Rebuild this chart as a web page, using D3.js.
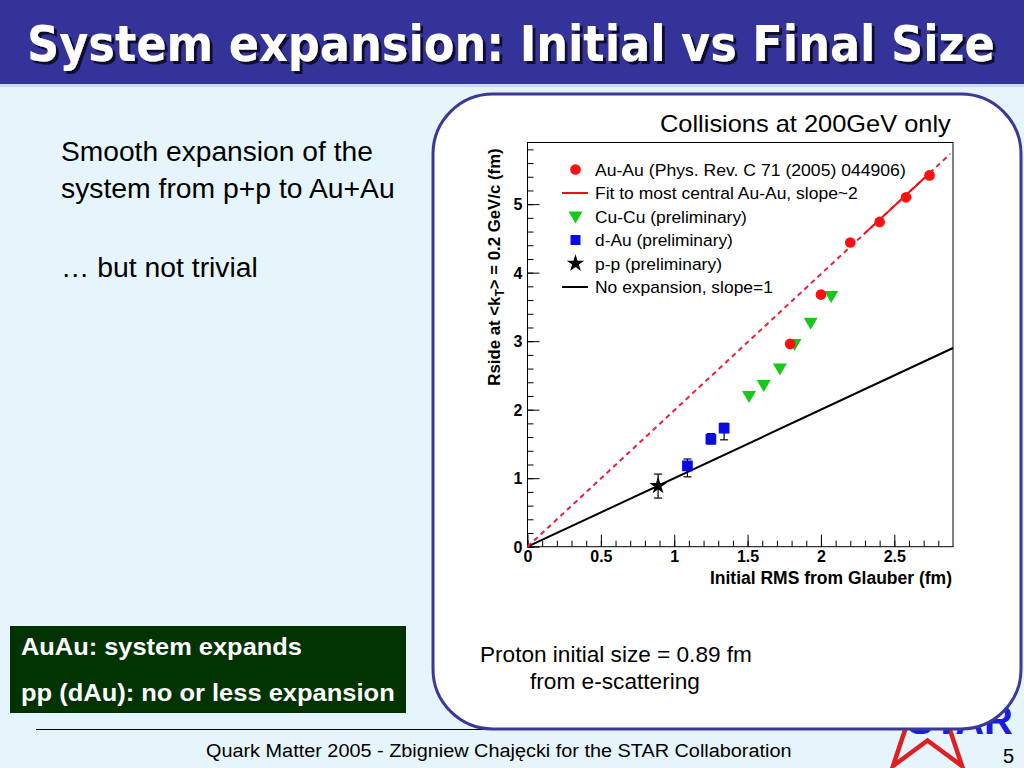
<!DOCTYPE html>
<html><head><meta charset="utf-8">
<script src="https://cdn.jsdelivr.net/npm/d3@7"></script>
<style>html,body{margin:0;padding:0;background:#e6f5fc;overflow:hidden}svg{display:block}</style>
</head><body>
<script>
// ---- data ----
const auauX = [1.79, 2.00, 2.20, 2.40, 2.58, 2.74];
const auauY = [2.96, 3.68, 4.44, 4.74, 5.10, 5.42];
const cucuX = [1.51, 1.61, 1.72, 1.82, 1.93, 2.07];
const cucuY = [2.20, 2.36, 2.60, 2.96, 3.27, 3.66];
const dauX = [1.09, 1.25, 1.34];
const dauY = [1.18, 1.57, 1.73];
const dauErrLo = [0.16, 0.07, 0.17];
const dauErrHi = [0.10, 0.08, 0.07];
const ppX = [0.89];
const ppY = [0.89];
const ppErrLo = [0.18];
const ppErrHi = [0.17];
const fitSlope = 1.99;           // "slope~2"
const fitRange = [0, 2.88];
const fitSolidRange = [2.3, 2.76];
const noExpSlope = 1;
const noExpRange = [0, 2.9];
const xDomain = [0, 2.9];
const yDomain = [0, 5.9];
const xMajorTicks = [0, 0.5, 1, 1.5, 2, 2.5];
const xTickLabels = ["0", "0.5", "1", "1.5", "2", "2.5"];
const yMajorTicks = [0, 1, 2, 3, 4, 5];
const yTickLabels = ["0", "1", "2", "3", "4", "5"];
const legendLabels = ["Au-Au (Phys. Rev. C 71 (2005) 044906)", "Fit to most central Au-Au, slope~2",
  "Cu-Cu (preliminary)", "d-Au (preliminary)", "p-p (preliminary)", "No expansion, slope=1"];

const W = 1024, H = 768;
const svg = d3.select("body").append("svg").attr("width", W).attr("height", H);
const font = "'Liberation Sans', Arial, Helvetica, sans-serif";

// fit a text element horizontally to a target width by scaling around its anchor x
function fitWidth(sel, target, anchorX) {
  const w = sel.node().getComputedTextLength();
  const s = target / w;
  sel.attr("transform", `translate(${anchorX},0) scale(${s},1) translate(${-anchorX},0)`);
}

const defs = svg.append("defs");
const f = defs.append("filter").attr("id", "shadow").attr("x", "-5%").attr("y", "-20%").attr("width", "110%").attr("height", "140%");
f.append("feDropShadow").attr("dx", 3).attr("dy", 3).attr("stdDeviation", 0.6).attr("flood-color", "#101030").attr("flood-opacity", 1);

// background
svg.append("rect").attr("width", W).attr("height", H).attr("fill", "#e6f5fc");
// title bar
svg.append("rect").attr("x", 0).attr("y", 0).attr("width", W).attr("height", 84).attr("fill", "#333399");
svg.append("rect").attr("x", 0).attr("y", 84).attr("width", W).attr("height", 3).attr("fill", "#c8dcf0");
const title = svg.append("text").attr("x", 27).attr("y", 61).attr("font-family", "'DejaVu Sans Condensed', 'DejaVu Sans', sans-serif")
  .attr("font-weight", "bold").attr("font-size", 50).attr("fill", "#ffffff").attr("filter", "url(#shadow)")
  .text("System expansion: Initial vs Final Size");
fitWidth(title, 968, 27);

// left text
const lt = svg.append("g").attr("font-family", font).attr("font-size", 27).attr("fill", "#000");
fitWidth(lt.append("text").attr("x", 61).attr("y", 161).text("Smooth expansion of the"), 312, 61);
fitWidth(lt.append("text").attr("x", 61).attr("y", 198).text("system from p+p to Au+Au"), 334, 61);
fitWidth(lt.append("text").attr("x", 61).attr("y", 277).text("\u2026 but not trivial"), 197, 61);

// green box
svg.append("rect").attr("x", 10).attr("y", 626).attr("width", 396).attr("height", 87).attr("fill", "#013301");
const gb = svg.append("g").attr("font-family", font).attr("font-size", 23.5).attr("font-weight", "bold").attr("fill", "#fff");
fitWidth(gb.append("text").attr("x", 21).attr("y", 655).text("AuAu: system expands"), 281, 21);
fitWidth(gb.append("text").attr("x", 21).attr("y", 701).text("pp (dAu): no or less expansion"), 374, 21);

// footer
svg.append("line").attr("x1", 36).attr("x2", 900).attr("y1", 729.5).attr("y2", 729.5).attr("stroke", "#000").attr("stroke-width", 1);
const foot = svg.append("text").attr("x", 206).attr("y", 757).attr("font-family", font)
  .attr("font-size", 19).text("Quark Matter 2005 - Zbigniew Chaj\u0119cki for the STAR Collaboration");
fitWidth(foot, 586, 206);
svg.append("text").attr("x", 1014).attr("y", 763).attr("text-anchor", "end").attr("font-family", font)
  .attr("font-size", 20).text("5");

// STAR logo (partly hidden behind the chart panel)
const starPts = d3.range(10).map(i => {
  const a = -Math.PI / 2 + i * Math.PI / 5, r = i % 2 ? 22 : 58.7;
  return [927.5 + r * Math.cos(a), 718.5 + r * Math.sin(a)];
});
svg.append("polygon").attr("points", starPts.map(p => p.join(",")).join(" "))
  .attr("fill", "none").attr("stroke", "#e02020").attr("stroke-width", 4.5).attr("stroke-linejoin", "miter");
svg.append("text").attr("x", 1013).attr("y", 734).attr("text-anchor", "end").attr("font-family", font)
  .attr("font-weight", "bold").attr("font-size", 40).attr("fill", "#1c1ce0").text("STAR");

// rounded panel
svg.append("rect").attr("x", 433).attr("y", 94).attr("width", 588).attr("height", 635).attr("rx", 60).attr("ry", 60)
  .attr("fill", "#fff").attr("stroke", "#3a3a96").attr("stroke-width", 3);

const coll = svg.append("text").attr("x", 660).attr("y", 132).attr("font-family", font)
  .attr("font-size", 23).text("Collisions at 200GeV only");
fitWidth(coll, 291, 660);
fitWidth(svg.append("text").attr("x", 480).attr("y", 662).attr("font-family", font).attr("font-size", 22)
  .text("Proton initial size = 0.89 fm"), 272, 480);
fitWidth(svg.append("text").attr("x", 530).attr("y", 689).attr("font-family", font).attr("font-size", 22)
  .text("from e-scattering"), 170, 530);

// ---- plot ----
const x = d3.scaleLinear().domain(xDomain).range([527.5, 953]);
const y = d3.scaleLinear().domain(yDomain).range([546.7, 142.5]);
const plot = svg.append("g");

// minor + major ticks (inside)
const xMinor = d3.range(0, 2.9001, 0.1).filter(v => v <= xDomain[1]);
const yMinor = d3.range(0, 5.9001, 0.2).filter(v => v <= yDomain[1]);
const xMinorAxis = d3.axisBottom(x).tickValues(xMinor).tickSize(-6).tickFormat("");
const yMinorAxis = d3.axisLeft(y).tickValues(yMinor).tickSize(-6).tickFormat("");
const xAxis = d3.axisBottom(x).tickValues(xMajorTicks).tickSize(-12).tickPadding(4)
  .tickFormat((d, i) => xTickLabels[i]);
const yAxis = d3.axisLeft(y).tickValues(yMajorTicks).tickSize(-12).tickPadding(5)
  .tickFormat((d, i) => yTickLabels[i]);
function styleAxis(g) {
  g.select(".domain").remove();
  g.selectAll("line").attr("stroke", "#000").attr("stroke-width", 1);
  g.selectAll("text").attr("font-family", font).attr("font-size", 16).attr("font-weight", "bold").attr("fill", "#000");
}
plot.append("g").attr("transform", `translate(0,${y(0)})`).call(xMinorAxis).call(styleAxis);
plot.append("g").attr("transform", `translate(${x(0)},0)`).call(yMinorAxis).call(styleAxis);
plot.append("g").attr("transform", `translate(0,${y(0)})`).call(xAxis).call(styleAxis);
const yg = plot.append("g").attr("transform", `translate(${x(0)},0)`).call(yAxis).call(styleAxis);
yg.selectAll(".tick text").attr("dy", "0.36em");

// frame
plot.append("rect").attr("x", x(0)).attr("y", y(yDomain[1])).attr("width", x(xDomain[1]) - x(0))
  .attr("height", y(0) - y(yDomain[1])).attr("fill", "none").attr("stroke", "#000").attr("stroke-width", 1);

// axis titles
plot.append("text").attr("x", 952).attr("y", 584).attr("text-anchor", "end").attr("font-family", font)
  .attr("font-size", 17.5).attr("font-weight", "bold").text("Initial RMS from Glauber (fm)");
const yt = plot.append("text").attr("transform", "translate(500,267) rotate(-90)").attr("text-anchor", "middle")
  .attr("font-family", font).attr("font-size", 16.8).attr("font-weight", "bold");
yt.append("tspan").text("Rside at <k");
yt.append("tspan").attr("font-size", 12).attr("dy", 4).text("T");
yt.append("tspan").attr("dy", -4).text("> = 0.2 GeV/c (fm)");

// lines
const line = d3.line().x(d => x(d[0])).y(d => y(d[1]));
plot.append("path").datum(noExpRange.map(v => [v, noExpSlope * v])).attr("d", line)
  .attr("stroke", "#000").attr("stroke-width", 2).attr("fill", "none");
plot.append("path").datum(fitRange.map(v => [v, fitSlope * v])).attr("d", line)
  .attr("stroke", "#e8203a").attr("stroke-width", 2).attr("stroke-dasharray", "5,4").attr("fill", "none");
plot.append("path").datum(fitSolidRange.map(v => [v, fitSlope * v])).attr("d", line)
  .attr("stroke", "#ee1010").attr("stroke-width", 2).attr("fill", "none");

// error bars
function errBars(xs, ys, lo, hi) {
  xs.forEach((xv, i) => {
    const g = plot.append("g").attr("stroke", "#000").attr("stroke-width", 1.2);
    g.append("line").attr("x1", x(xv)).attr("x2", x(xv)).attr("y1", y(ys[i] - lo[i])).attr("y2", y(ys[i] + hi[i]));
    [ys[i] - lo[i], ys[i] + hi[i]].forEach(v => g.append("line").attr("x1", x(xv) - 4).attr("x2", x(xv) + 4)
      .attr("y1", y(v)).attr("y2", y(v)));
  });
}
errBars(dauX, dauY, dauErrLo, dauErrHi);
errBars(ppX, ppY, ppErrLo, ppErrHi);

// markers
const sym = {
  circle: d3.symbol().type(d3.symbolCircle).size(90),
  square: d3.symbol().type(d3.symbolSquare).size(115),
  star: d3.symbol().type(d3.symbolStar).size(95)
};
const triDown = "M-7,-5L7,-5L0,7Z";
plot.selectAll(".cucu").data(cucuX).join("path").attr("d", triDown)
  .attr("transform", (d, i) => `translate(${x(d)},${y(cucuY[i])})`).attr("fill", "#18c818");
plot.selectAll(".auau").data(auauX).join("path").attr("d", sym.circle())
  .attr("transform", (d, i) => `translate(${x(d)},${y(auauY[i])})`).attr("fill", "#ff1010");
plot.selectAll(".dau").data(dauX).join("path").attr("d", sym.square())
  .attr("transform", (d, i) => `translate(${x(d)},${y(dauY[i])})`).attr("fill", "#0a0ae6");
plot.selectAll(".pp").data(ppX).join("path").attr("d", sym.star())
  .attr("transform", (d, i) => `translate(${x(d)},${y(ppY[i])})`).attr("fill", "#000");

// legend
const leg = plot.append("g").attr("font-family", font).attr("font-size", 17);
const legY0 = 169.5, legDy = 23.5, legMx = 575.5, legTx = 595;
const legTextWidths = [311, 263, 152, 138, 127, 178]; // layout: widths measured on the reference
legendLabels.forEach((t, i) => {
  const cy = legY0 + i * legDy;
  fitWidth(leg.append("text").attr("x", legTx).attr("y", cy).attr("dy", "0.36em").text(t), legTextWidths[i], legTx);
});
leg.append("path").attr("d", sym.circle()).attr("transform", `translate(${legMx},${legY0})`).attr("fill", "#ff1010");
leg.append("line").attr("x1", 562).attr("x2", 588).attr("y1", legY0 + legDy).attr("y2", legY0 + legDy).attr("stroke", "#ee1010").attr("stroke-width", 2);
leg.append("path").attr("d", triDown).attr("transform", `translate(${legMx},${legY0 + 2 * legDy})`).attr("fill", "#18c818");
leg.append("path").attr("d", d3.symbol().type(d3.symbolSquare).size(100)()).attr("transform", `translate(${legMx},${legY0 + 3 * legDy})`).attr("fill", "#0a0ae6");
leg.append("path").attr("d", sym.star()).attr("transform", `translate(${legMx},${legY0 + 4 * legDy})`).attr("fill", "#000");
leg.append("line").attr("x1", 562).attr("x2", 588).attr("y1", legY0 + 5 * legDy).attr("y2", legY0 + 5 * legDy).attr("stroke", "#000").attr("stroke-width", 2);
</script>
</body></html>
